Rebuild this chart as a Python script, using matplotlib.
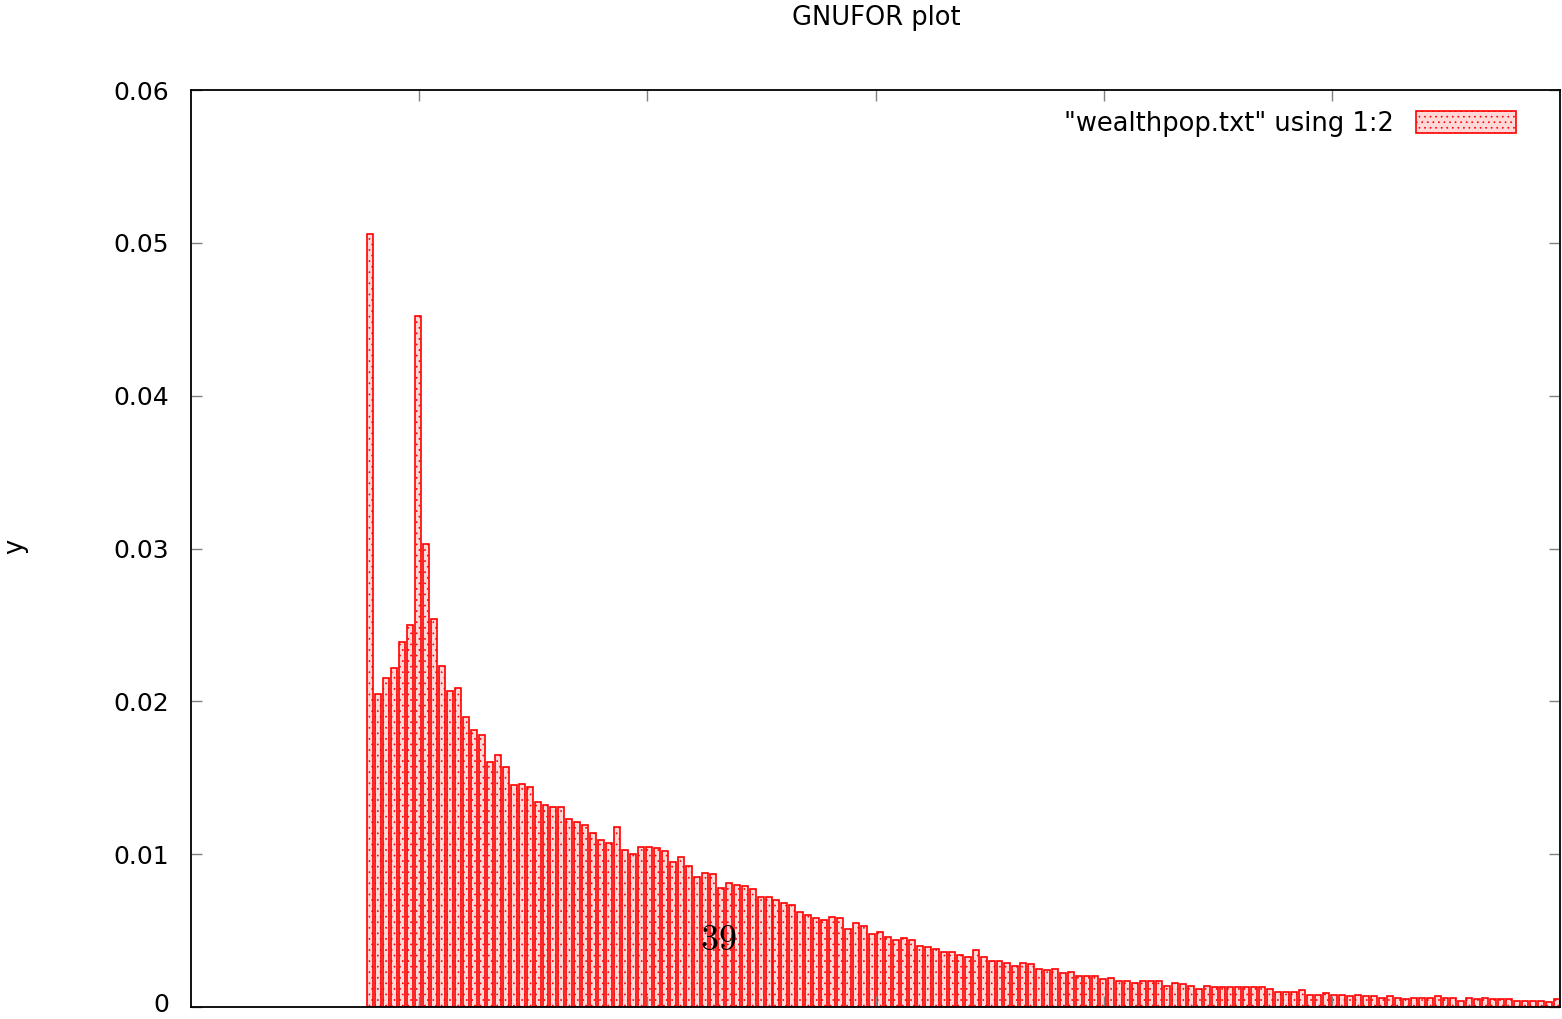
import numpy as np
import matplotlib
matplotlib.use('Agg')
import matplotlib.pyplot as plt
import matplotlib.transforms as mtransforms

# wealth share per wealth level
levels = np.arange(1, 151)
share = [
    0.0506, 0.0205, 0.0215, 0.0222, 0.0239, 0.0250, 0.0452, 0.0303, 0.0254, 0.0223,
    0.0207, 0.0209, 0.0190, 0.0181, 0.0178, 0.0160, 0.0165, 0.0157, 0.0145, 0.0146,
    0.0144, 0.0134, 0.0132, 0.0131, 0.0131, 0.0123, 0.0121, 0.0119, 0.0114, 0.0109,
    0.0107, 0.0118, 0.0103, 0.0100, 0.0105, 0.0105, 0.0104, 0.0102, 0.0095, 0.0098,
    0.0092, 0.0085, 0.0088, 0.0087, 0.0078, 0.0081, 0.0080, 0.0079, 0.0077, 0.0072,
    0.0072, 0.0070, 0.0068, 0.0067, 0.0062, 0.0060, 0.0058, 0.0057, 0.0059, 0.0058,
    0.0051, 0.0055, 0.0053, 0.0048, 0.0049, 0.0046, 0.0044, 0.0045, 0.0044, 0.0040,
    0.0039, 0.0038, 0.0036, 0.0036, 0.0034, 0.0033, 0.0037, 0.0033, 0.0030, 0.0030,
    0.0029, 0.0027, 0.0029, 0.0028, 0.0025, 0.0024, 0.0025, 0.0022, 0.0023, 0.0020,
    0.0020, 0.0020, 0.0018, 0.0019, 0.0017, 0.0017, 0.0016, 0.0017, 0.0017, 0.0017,
    0.0014, 0.0016, 0.0015, 0.0014, 0.0012, 0.0014, 0.0013, 0.0013, 0.0013, 0.0013,
    0.0013, 0.0013, 0.0013, 0.0012, 0.0010, 0.0010, 0.0010, 0.0011, 0.0008, 0.0008,
    0.0009, 0.0008, 0.0008, 0.0007, 0.0008, 0.0007, 0.0007, 0.0006, 0.0007, 0.0006,
    0.0005, 0.0006, 0.0006, 0.0006, 0.0007, 0.0006, 0.0006, 0.0004, 0.0006, 0.0005,
    0.0006, 0.0005, 0.0005, 0.0005, 0.0004, 0.0004, 0.0004, 0.0004, 0.0003, 0.0005,
]
yticks = [0, 0.01, 0.02, 0.03, 0.04, 0.05, 0.06]
ytick_labels = ['0', '0.01', '0.02', '0.03', '0.04', '0.05', '0.06']
series_label = '"wealthpop.txt" using 1:2'
note = '39'

plt.rcParams['font.family'] = ['DejaVu Sans']
plt.rcParams['mathtext.fontset'] = 'cm'
plt.rcParams['hatch.linewidth'] = 0.5

fig = plt.figure(figsize=(15.62, 10.19), dpi=100)
ax = fig.add_axes([191 / 1562, 12 / 1019, 1369 / 1562, 917 / 1019])

ax.bar(levels, share, width=0.75, facecolor='#ffd8d8', edgecolor='red',
       linewidth=1.2, hatch='...', label=series_label)

xlim = (-21.51, 150.375)
ax.set_xlim(xlim)
ax.set_ylim(0, 0.06)
ax.set_xticks(np.linspace(xlim[0], xlim[1], 7)[1:-1])
ax.set_yticks(yticks, labels=ytick_labels)
ax.tick_params(axis='both', direction='in', length=8, width=1, color='#808080',
               top=True, right=True, labelsize=18, pad=16)
ax.tick_params(axis='x', labelbottom=False)
for s in ax.spines.values():
    s.set_linewidth(1.3)
    s.set_color('black')

# keep the bottom "0" label inside the canvas
zero_lbl = ax.get_yticklabels()[0]
zero_lbl.set_transform(zero_lbl.get_transform() +
                       mtransforms.ScaledTranslation(0, 4 / 100, fig.dpi_scale_trans))

ax.text(44.7, 0.0044, '$' + note + '$', fontsize=26, ha='center', va='center')

fig.text(876 / 1562, 1 - 18 / 1019, 'GNUFOR plot', fontsize=18.5, ha='center', va='center')
fig.text(15 / 1562, 1 - 546 / 1019, 'y', fontsize=18.5, rotation=90, ha='center', va='center')

ax.legend(loc='upper right', bbox_to_anchor=(1516 / 1562, 1 - 111 / 1019),
          bbox_transform=fig.transFigure, frameon=False, fontsize=18.5,
          markerfirst=False, handlelength=3.9, handleheight=0.95,
          handletextpad=0.85, borderpad=0, borderaxespad=0)

fig.savefig('out.png', dpi=100)
